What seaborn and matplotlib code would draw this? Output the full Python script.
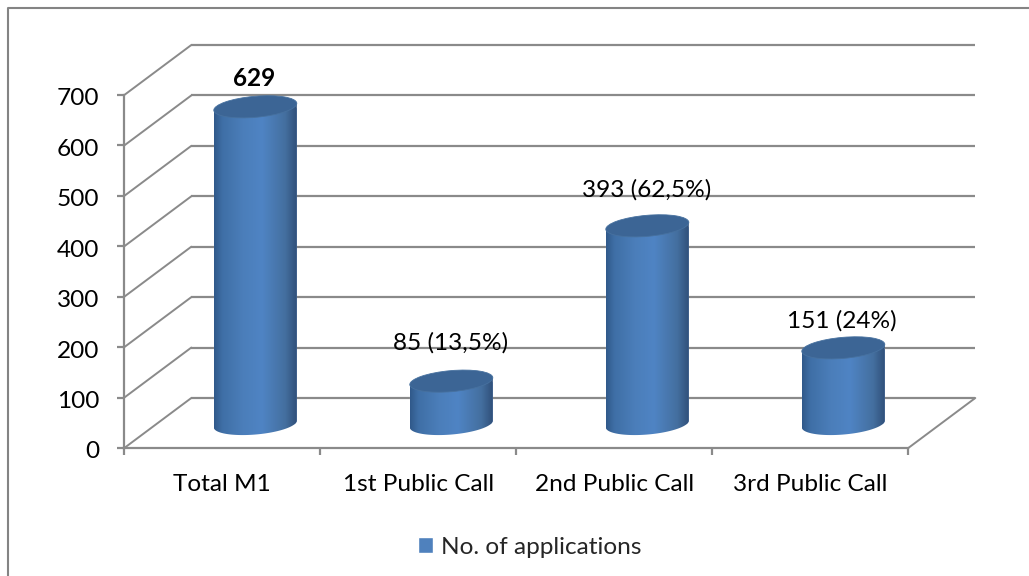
import numpy as np
import matplotlib
matplotlib.use("Agg")
import matplotlib.pyplot as plt
from matplotlib.colors import LinearSegmentedColormap
from matplotlib.lines import Line2D
from matplotlib.patches import Ellipse, Patch
from matplotlib.path import Path
from matplotlib.transforms import IdentityTransform, ScaledTranslation, offset_copy
import seaborn as sns

categories = ["Total M1", "1st Public Call", "2nd Public Call", "3rd Public Call"]
values = [629, 85, 393, 151]
bar_labels = ["629", "85 (13,5%)", "393 (62,5%)", "151 (24%)"]
y_ticks = [0, 100, 200, 300, 400, 500, 600, 700]
series_name = "No. of applications"

W, H = 1029, 576
GREY = "#8a8a8a"
BLUE = "#4f81bd"
label_gap = [28, 38, 36, 27]

sns.set_theme(style="white")
plt.rcParams["font.family"] = ["Lato", "DejaVu Sans"]
FS = 17.6

fig = plt.figure(figsize=(W / 100, H / 100), dpi=100)
ax = fig.add_axes([124.3 / W, (H - 448) / H, 784 / W, 353 / H])
ax.patch.set_alpha(0)

sns.barplot(x=categories, y=values, width=0.424, color=BLUE, saturation=1, ax=ax, zorder=3)
ax.set_autoscale_on(False)
ax.set_xlim(-0.5, 3.5)
ax.set_ylim(0, 700)
ax.set_xlabel("")
ax.set_ylabel("")

# outer chart frame, only left and top are inside the picture
fig.add_artist(Line2D([8 / W, 8 / W, 1], [0, (H - 8) / H, (H - 8) / H], transform=fig.transFigure,
                      color="#848484", linewidth=1.5))

# axes
for side in ["top", "right"]:
    ax.spines[side].set_visible(False)
for side in ["left", "bottom"]:
    ax.spines[side].set_color(GREY)
    ax.spines[side].set_linewidth(1.6)
ax.set_yticks(y_ticks)
ax.set_xticks(np.arange(-0.5, 4, 1), minor=False, labels=[""] * 5)
ax.set_xticks(np.arange(len(categories)), minor=True, labels=categories)
ax.tick_params(axis="x", which="major", length=5, width=1.6, color=GREY, bottom=True)
ax.tick_params(axis="x", which="minor", length=0, pad=19, labelsize=FS, labelcolor="black", bottom=True)
ax.tick_params(axis="y", length=5, width=1.6, color=GREY, pad=13, labelsize=FS, labelcolor="black", left=True)
# lato digits sit a little high compared with the reference
nudge = ScaledTranslation(0, -2 / 100, fig.dpi_scale_trans)
for lab in ax.get_yticklabels():
    lab.set_transform(lab.get_transform() + nudge)

# back wall and floor
fig.canvas.draw()
wall = offset_copy(ax.transData, fig=fig, x=67, y=50, units="dots")
ax.hlines(y_ticks, -0.5, 3.5, transform=wall, colors=GREY, linewidth=1.6, zorder=1, clip_on=False)
depth_lines = [(-0.5, t) for t in y_ticks] + [(3.5, 0)]
for xd, yd in depth_lines:
    a = ax.transData.transform((xd, yd))
    b = wall.transform((xd, yd))
    ax.plot([a[0], b[0]], [a[1], b[1]], transform=IdentityTransform(), color=GREY,
            linewidth=1.4, zorder=1, clip_on=False)

# cylinders, on top of the seaborn bars
bar_depth = offset_copy(ax.transData, fig=fig, x=33, y=24, units="dots")
body_cmap = LinearSegmentedColormap.from_list(
    "cyl", [(0, "#30598a"), (0.1, "#3f6fa6"), (0.35, "#4b7eba"), (0.58, "#4f84c4"),
            (0.86, "#446f9f"), (1, "#30507a")])
gradient = np.linspace(0, 1, 256).reshape(1, -1)
theta = np.radians(5)
semi_a, semi_b = 41.65, 10.5


def ellipse_point(cx, cy, t):
    ex, ey = semi_a * np.cos(t), semi_b * np.sin(t)
    return cx + ex * np.cos(theta) - ey * np.sin(theta), cy + ex * np.sin(theta) + ey * np.cos(theta)


# parameter where the ellipse has its vertical tangents
t_right = np.arctan2(-semi_b * np.sin(theta), semi_a * np.cos(theta))
for bar, val, text, gap in zip(ax.patches, values, bar_labels, label_gap):
    bar.set_transform(bar_depth)
    mid = bar.get_x() + bar.get_width() / 2
    cx, base = bar_depth.transform((mid, 0))
    _, top = bar_depth.transform((mid, val))

    arc = np.linspace(t_right - np.pi, t_right, 60)
    low = np.array([ellipse_point(cx, base, t) for t in arc])
    corner_r = ellipse_point(cx, top, t_right)
    corner_l = ellipse_point(cx, top, t_right - np.pi)
    verts = np.vstack([[corner_l], low, [corner_r], [corner_l]])
    outline = Path(verts)
    bar.set_clip_path(outline, transform=IdentityTransform())

    im = ax.imshow(gradient, cmap=body_cmap, aspect="auto", transform=IdentityTransform(),
                   extent=(cx - 41.5, cx + 41.5, base - 15, top + 15), zorder=4)
    im.set_clip_path(outline, transform=IdentityTransform())
    ax.add_patch(Ellipse((cx, top), 2 * semi_a, 2 * semi_b, angle=5, transform=IdentityTransform(),
                         facecolor="#3c6595", edgecolor="#47719f", linewidth=0.6, zorder=5, clip_on=False))
    ax.annotate(text, (mid, val), xycoords=bar_depth, xytext=(-1, gap), textcoords="offset pixels",
                ha="center", va="center", fontsize=FS, color="black",
                fontweight="bold" if text == "629" else "normal", zorder=6)

ax.set_xlim(-0.5, 3.5)
ax.set_ylim(0, 700)

fig.legend(handles=[Patch(facecolor=BLUE, label=series_name)], loc="center",
           bbox_to_anchor=(530 / W, (H - 547) / H), frameon=False, fontsize=FS,
           handlelength=0.6, handleheight=0.6, handletextpad=0.35)

fig.savefig("out.png", dpi=100, facecolor="white")
